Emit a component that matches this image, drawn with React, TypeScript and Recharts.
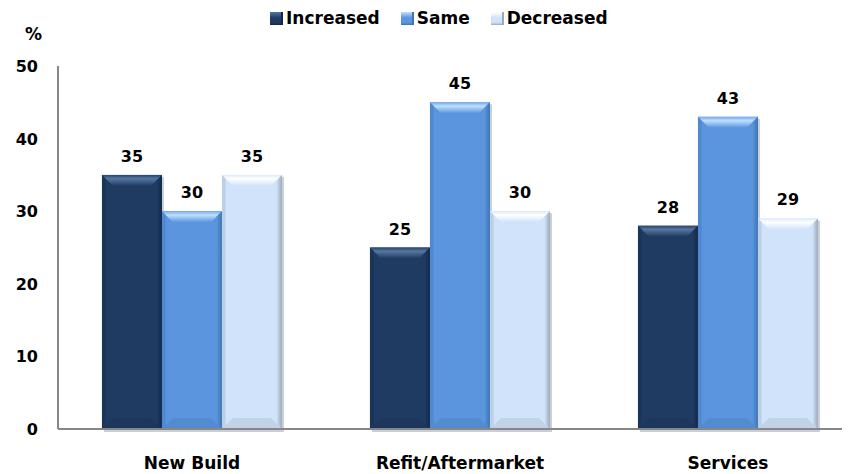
import React from 'react';
import { BarChart, Bar, XAxis, YAxis, LabelList } from 'recharts';

const categories = ['New Build', 'Refit/Aftermarket', 'Services'];
const increased = [35, 25, 28];
const same = [30, 45, 43];
const decreased = [35, 30, 29];
const seriesNames = ['Increased', 'Same', 'Decreased'];
const yTicks = [0, 10, 20, 30, 40, 50];

const data = categories.map((name, i) => ({
  name,
  increased: increased[i],
  same: same[i],
  decreased: decreased[i],
}));

const FONT = '"DejaVu Sans", sans-serif';

type Palette = { base: string; topA: string; topB: string; side: string; bottom: string };

const palettes: Record<string, Palette> = {
  increased: { base: '#1F3B62', topA: '#5676A0', topB: '#28466E', side: '#13284A', bottom: '#1A3358' },
  same: { base: '#5A95DD', topA: '#BFE0FF', topB: '#72A9E8', side: '#3E73B4', bottom: '#4F86CA' },
  decreased: { base: '#D0E3FA', topA: '#FFFFFF', topB: '#DDEBFC', side: '#9CA9BA', bottom: '#B9C8DC' },
};

const keys = ['increased', 'same', 'decreased'];

function makeBevel(key: string) {
  const p = palettes[key];
  return (props: any) => {
    const { x, y, width: w, height: h } = props;
    if (!h || h <= 0) return <g />;
    const b = Math.min(11, h / 2, w / 2);
    const tid = `top-${key}`;
    const sid = `side-${key}`;
    return (
      <g>
        <defs>
          <linearGradient id={tid} x1="0" y1="0" x2="0" y2="1">
            <stop offset="0" stopColor={p.topB} />
            <stop offset="0.35" stopColor={p.topA} />
            <stop offset="1" stopColor={p.base} />
          </linearGradient>
          <linearGradient id={sid} x1="0" y1="0" x2="1" y2="0">
            <stop offset="0" stopColor={p.base} />
            <stop offset="1" stopColor={p.side} />
          </linearGradient>
        </defs>
        <rect x={x + 2} y={y + 2} width={w} height={h + 1} fill="#8A94A3" opacity={0.45} />
        <rect x={x} y={y} width={w} height={h} fill={p.base} />
        <polygon
          points={`${x},${y} ${x + w},${y} ${x + w - b},${y + b} ${x + b},${y + b}`}
          fill={`url(#${tid})`}
        />
        <polygon
          points={`${x + w},${y} ${x + w},${y + h} ${x + w - b / 2},${y + h - b / 2} ${x + w - b / 2},${y + b / 2}`}
          fill={`url(#${sid})`}
        />
        <polygon
          points={`${x},${y} ${x + b / 3},${y + b / 3} ${x + b / 3},${y + h - b / 3} ${x},${y + h}`}
          fill={p.side}
          opacity={0.35}
        />
        <polygon
          points={`${x},${y + h} ${x + w},${y + h} ${x + w - b},${y + h - b} ${x + b},${y + h - b}`}
          fill={p.bottom}
          opacity={0.6}
        />
      </g>
    );
  };
}

const XTick = (props: any) => {
  const { x, y, payload } = props;
  return (
    <text x={x} y={y} textAnchor="middle" dy={12} fontFamily={FONT} fontWeight="bold" fontSize={17} fill="#000">
      {payload.value}
    </text>
  );
};

const YTick = (props: any) => {
  const { x, y, payload } = props;
  return (
    <text x={x} y={y} textAnchor="end" dy={6} fontFamily={FONT} fontWeight="bold" fontSize={16} fill="#000">
      {payload.value}
    </text>
  );
};

const LegendSwatch = ({ k }: { k: string }) => {
  const p = palettes[k];
  return (
    <span
      style={{
        display: 'inline-block',
        width: 13,
        height: 13,
        marginRight: 3,
        background: `linear-gradient(180deg, ${p.topA} 0%, ${p.base} 45%, ${p.base} 80%, ${p.side} 100%)`,
        boxShadow: `inset -2px 0 0 ${p.side}`,
      }}
    />
  );
};

export default function App() {
  return (
    <div style={{ position: 'relative', width: 842, height: 466, overflow: 'hidden', background: '#fff' }}>
      <div
        style={{
          position: 'absolute',
          left: 262,
          top: 0,
          height: 20,
          display: 'flex',
          alignItems: 'center',
          fontFamily: FONT,
          fontWeight: 'bold',
          fontSize: 17,
          whiteSpace: 'nowrap',
          zIndex: 2,
        }}
      >
        {keys.map((k, i) => (
          <span key={k} style={{ display: 'inline-flex', alignItems: 'center', marginRight: i < 2 ? 21 : 0 }}>
            <LegendSwatch k={k} />
            {seriesNames[i]}
          </span>
        ))}
      </div>
      <div
        style={{
          position: 'absolute',
          left: 17,
          top: 16,
          fontFamily: FONT,
          fontWeight: 'bold',
          fontSize: 17,
          zIndex: 2,
        }}
      >
        %
      </div>
      <BarChart
        width={854}
        height={466}
        data={data}
        margin={{ top: 58, right: 0, bottom: 0, left: 0 }}
        barCategoryGap="16.4%"
        barGap={0}
      >
        <XAxis
          dataKey="name"
          height={45}
          axisLine={{ stroke: '#878787', strokeWidth: 2 }}
          tickLine={false}
          tick={<XTick />}
          tickMargin={22}
        />
        <YAxis
          width={50}
          domain={[0, 50]}
          ticks={yTicks}
          interval={0}
          axisLine={{ stroke: '#878787', strokeWidth: 2 }}
          tickLine={false}
          tickSize={0}
          tick={<YTick />}
          tickMargin={20}
        />
        {keys.map((k) => (
          <Bar key={k} dataKey={k} name={k} fill={palettes[k].base} shape={makeBevel(k)} isAnimationActive={false}>
            <LabelList
              dataKey={k}
              position="top"
              offset={13}
              fontFamily={FONT}
              fontWeight="bold"
              fontSize={16}
              fill="#000"
            />
          </Bar>
        ))}
      </BarChart>
    </div>
  );
}
